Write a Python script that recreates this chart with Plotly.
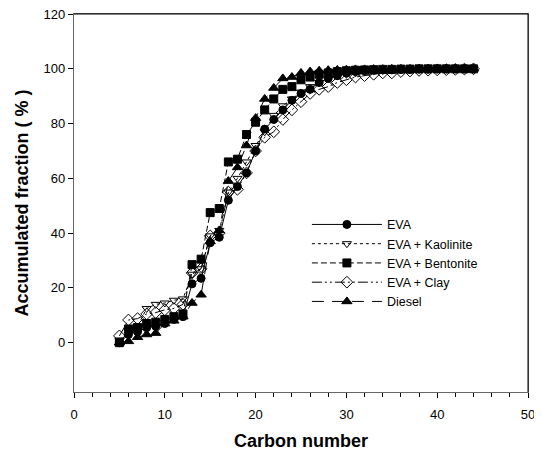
import plotly.graph_objects as go

carbon = list(range(5, 45))

eva = [0, 3, 4, 5.5, 6, 7, 8.5, 9.5, 21.5, 23.5, 36.5, 38.5, 52, 57, 62, 70,
       78, 81.5, 85, 88.5, 91, 92.5, 95, 96.5, 97.5, 98.5, 99, 99.3, 99.5, 99.6,
       99.7, 99.8, 99.8, 99.9, 99.9, 100, 100, 100, 100, 100]
kaolinite = [1, 4, 6, 12.5, 14, 14.5, 15.5, 16, 25, 27, 39, 41, 55, 60, 66, 72,
             77, 83, 86.5, 89, 91.5, 93.5, 95, 96.5, 97.5, 98, 98.5, 99, 99.2, 99.4,
             99.5, 99.6, 99.7, 99.8, 99.8, 99.9, 99.9, 100, 100, 100]
bentonite = [0, 5, 5.5, 7, 7.5, 8.5, 9.5, 10.5, 28.5, 30.5, 47.5, 49, 66, 67, 76, 80.5,
             85, 89, 92.5, 93.5, 96, 97, 98, 98.5, 99, 99.3, 99.5, 99.6, 99.7, 99.8,
             99.8, 99.9, 99.9, 100, 100, 100, 100, 100, 100, 100]
clay = [2.5, 8.3, 8.8, 10.5, 11, 12, 12.5, 14, 25.5, 27, 39, 40, 55, 56, 62, 70,
        75, 77, 81.5, 85, 88, 91, 92.5, 93.5, 95, 96, 97, 97.5, 98, 98.5,
        98.5, 99, 99.2, 99.4, 99.5, 99.6, 99.7, 99.8, 99.9, 100]
diesel = [0, 0.5, 2, 3, 3.5, 7, 8, 9.5, 14.5, 17.5, 37, 41, 59, 64, 72, 82,
          89, 93, 96.5, 97, 98.5, 99, 99.3, 99.5, 99.6, 99.7, 99.8, 99.8, 99.9, 99.9,
          100, 100, 100, 100, 100, 100, 100, 100, 100, 100]

names = ["EVA", "EVA + Kaolinite", "EVA + Bentonite", "EVA + Clay", "Diesel"]
series = [eva, kaolinite, bentonite, clay, diesel]
symbols = ["circle", "triangle-down-open", "square", "diamond-open", "triangle-up"]
dashes = ["solid", "dot", "6px,3px", "10px,3px,2px,3px,2px,3px", "12px,8px"]
sizes = [8, 8, 8, 9, 9]

fig = go.Figure()
for nm, ys, sym, ds, sz in zip(names, series, symbols, dashes, sizes):
    fig.add_trace(go.Scatter(
        x=carbon, y=ys, name=nm, mode="lines+markers",
        line=dict(color="black", width=1, dash=ds),
        marker=dict(symbol=sym, size=sz, color="black",
                    line=dict(color="black", width=1)),
    ))

font = "Liberation Sans, Arial, sans-serif"
fig.update_layout(
    width=534, height=451,
    margin=dict(l=66, r=14, t=6, b=67),
    paper_bgcolor="white", plot_bgcolor="white",
    font=dict(family=font, size=13, color="black"),
    showlegend=True,
    legend=dict(x=0.513, y=0.482, xanchor="left", yanchor="top",
                bgcolor="rgba(0,0,0,0)", font=dict(size=12.5), itemwidth=70,
                tracegroupgap=0),
    xaxis=dict(range=[0, 50], tickvals=[0, 10, 20, 30, 40, 50], automargin=False,
               ticks="outside", ticklen=5, tickcolor="black", ticklabelstandoff=5,
               ticklabeloverflow="allow",
               minor=dict(dtick=2, ticks="outside", ticklen=4, tickcolor="black"),
               showgrid=False, zeroline=False, showline=True, mirror=True,
               linecolor="#666", linewidth=1.2,
               title=dict(text="<b>Carbon number</b>", font=dict(size=18), standoff=13)),
    yaxis=dict(range=[-18, 120.02], tickvals=[0, 20, 40, 60, 80, 100, 120], automargin=False,
               ticks="outside", ticklen=5, tickcolor="black", ticklabeloverflow="allow",
               showgrid=False, zeroline=False, showline=True, mirror=True,
               linecolor="#666", linewidth=1.2,
               title=dict(text="<b>Accumulated fraction ( % )</b>", font=dict(size=18), standoff=10)),
)
fig.add_shape(type="line", xref="paper", yref="paper", x0=0, x1=1, y0=1, y1=1,
              line=dict(color="black", width=1), layer="above")
fig.add_shape(type="line", xref="paper", yref="paper", x0=1, x1=1, y0=0, y1=1,
              line=dict(color="black", width=1), layer="above")

fig.write_html("out.html")
